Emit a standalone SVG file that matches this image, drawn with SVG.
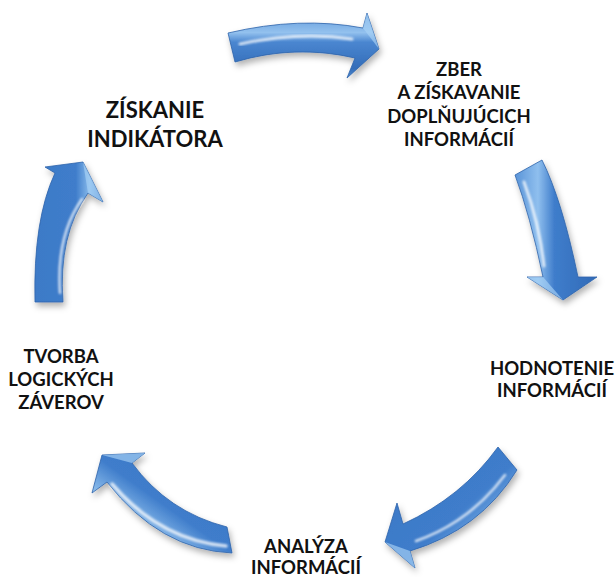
<svg xmlns="http://www.w3.org/2000/svg" width="616" height="577" viewBox="0 0 616 577">
<defs>
<style>
.lbl{font-family:Lato,"Open Sans","Liberation Sans",sans-serif;font-weight:bold;fill:#111;text-anchor:middle}
.s{font-size:18.5px}
.b{font-size:22px}
.arrow{stroke:#2d63ab;stroke-width:0.8;stroke-linejoin:round}
.hl{fill:none;stroke:#ffffff;stroke-linecap:round;opacity:0.75;filter:url(#blur)}
.facet{fill:#a9d2f6;opacity:0.65}
</style>
<filter id="sh" x="-20%" y="-20%" width="150%" height="150%">
<feDropShadow dx="2" dy="4" stdDeviation="3" flood-color="#000" flood-opacity="0.3"/>
</filter>
<filter id="blur" x="-20%" y="-20%" width="140%" height="140%">
<feGaussianBlur stdDeviation="1.2"/>
</filter>
<linearGradient id="g1" x1="0" y1="0" x2="0" y2="1">
<stop offset="0" stop-color="#5e97d9"/><stop offset="0.3" stop-color="#93c1ee"/><stop offset="0.45" stop-color="#4a86d0"/><stop offset="0.85" stop-color="#336db9"/><stop offset="1" stop-color="#4e89cf"/>
</linearGradient>
<linearGradient id="g2" x1="0" y1="0" x2="1" y2="0">
<stop offset="0" stop-color="#5a94d8"/><stop offset="0.28" stop-color="#8fbfee"/><stop offset="0.48" stop-color="#3f7dcb"/><stop offset="1" stop-color="#306ab7"/>
</linearGradient>
<linearGradient id="g3" x1="0" y1="0" x2="1" y2="1">
<stop offset="0" stop-color="#3a76c4"/><stop offset="0.55" stop-color="#3f7dcb"/><stop offset="0.75" stop-color="#7fb3e8"/><stop offset="1" stop-color="#3a75c2"/>
</linearGradient>
<linearGradient id="g4" x1="1" y1="0" x2="0" y2="1">
<stop offset="0" stop-color="#3a76c4"/><stop offset="0.5" stop-color="#3f7dcb"/><stop offset="0.72" stop-color="#9ccaf2"/><stop offset="1" stop-color="#3f7cc8"/>
</linearGradient>
<linearGradient id="g5" x1="0" y1="0" x2="1" y2="0">
<stop offset="0" stop-color="#3d7ac7"/><stop offset="0.6" stop-color="#3f7dcb"/><stop offset="0.8" stop-color="#86b9ea"/><stop offset="1" stop-color="#3a76c4"/>
</linearGradient>
</defs>
<rect width="616" height="577" fill="#ffffff"/>
<g id="connectors">
<g id="arrow-top" filter="url(#sh)">
<path class="arrow" fill="url(#g1)" d="M228,33 Q300,16 363,28 L367,13 L379,49 L347,78 L355,58 Q295,44 235,62 Z"/>
<path class="hl" stroke-width="3" d="M240,44 Q300,31 352,39"/>
<path class="facet" d="M363,28 L367,13 L379,49 Z"/>
</g>
<g id="arrow-right" filter="url(#sh)">
<path class="arrow" fill="url(#g2)" d="M515,175 L542,160 Q562,200 578,277 L597,277 L563,300 L527,277 L543,277 Q530,215 515,175 Z"/>
<path class="hl" stroke-width="3" d="M524,182 Q539,222 544,266"/>
<path class="facet" d="M527,277 L543,277 L563,300 Z"/>
</g>
<g id="arrow-bottom-right" filter="url(#sh)">
<path class="arrow" fill="url(#g3)" d="M498,447 Q462,497 403,524 L397,503 L385,542 L415,568 L410,551 Q480,530 517,470 Z"/>
<path class="hl" stroke-width="2.5" d="M416,541 Q470,522 505,475"/>
<path class="facet" d="M385,542 L415,568 L410,551 Z"/>
</g>
<g id="arrow-bottom-left" filter="url(#sh)">
<path class="arrow" fill="url(#g4)" d="M132,463 L145,453 L102,455 L92,493 L107,482 Q160,550 232,553 L227,527 Q168,512 132,463 Z"/>
<path class="hl" stroke-width="3.5" d="M112,484 Q160,540 226,546"/>
<path class="facet" d="M145,453 L102,455 L132,463 Z"/>
</g>
<g id="arrow-left" filter="url(#sh)">
<path class="arrow" fill="url(#g5)" d="M35,302 L63,302 Q58,235 88,193 L103,202 L83,162 L45,167 L55,173 Q33,220 35,302 Z"/>
<path class="hl" stroke-width="2.5" d="M60,293 Q56,236 82,199"/>
<path class="facet" d="M83,162 L103,202 L88,193 Z"/>
</g>
</g>
<g id="node-ziskanie">
<text class="lbl b" x="155" y="118">ZÍSKANIE</text>
<text class="lbl b" x="155" y="147">INDIKÁTORA</text>
</g>
<g id="node-zber">
<text class="lbl s" x="459" y="76">ZBER</text>
<text class="lbl s" x="459" y="99">A ZÍSKAVANIE</text>
<text class="lbl s" x="459" y="123">DOPLŇUJÚCICH</text>
<text class="lbl s" x="459" y="146">INFORMÁCIÍ</text>
</g>
<g id="node-hodnotenie">
<text class="lbl s" x="552" y="375">HODNOTENIE</text>
<text class="lbl s" x="552" y="397">INFORMÁCIÍ</text>
</g>
<g id="node-analyza">
<text class="lbl s" x="306" y="553">ANALÝZA</text>
<text class="lbl s" x="306" y="574">INFORMÁCIÍ</text>
</g>
<g id="node-tvorba">
<text class="lbl s" x="61" y="363">TVORBA</text>
<text class="lbl s" x="61" y="386">LOGICKÝCH</text>
<text class="lbl s" x="61" y="409">ZÁVEROV</text>
</g>
</svg>
